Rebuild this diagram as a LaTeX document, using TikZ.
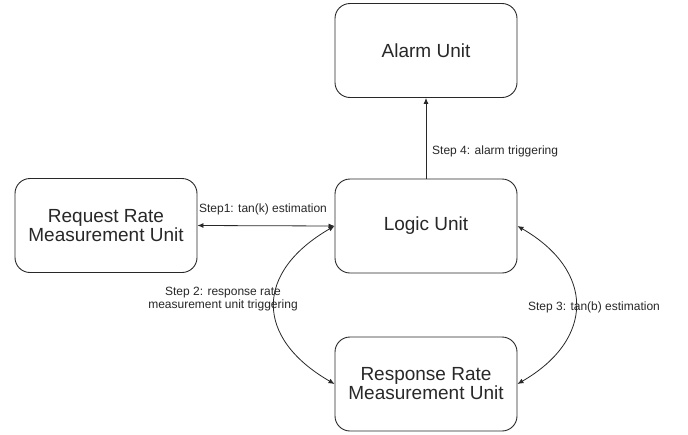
\documentclass[tikz,border=0pt]{standalone}
\usepackage{fontspec}
\setmainfont{Liberation Sans}
\usetikzlibrary{arrows.meta}
\definecolor{ink}{RGB}{40,40,40}
\begin{document}
\begin{tikzpicture}[x=1pt,y=-1pt,
  unitbox/.style={draw=ink,line width=0.9pt,rounded corners=15pt,minimum width=182pt,
    minimum height=94pt,align=center,text=ink,inner sep=0pt,
    font=\fontsize{19}{19}\selectfont},
  conn/.style={draw=ink,line width=0.8pt},
  tip/.style={-{Latex[length=6pt,width=5pt]}},
  tips/.style={{Latex[length=6pt,width=5pt]}-{Latex[length=6pt,width=5pt]}},
  lbl/.style={text=ink,inner sep=0pt,font=\fontsize{12}{12.7}\selectfont,align=center}]
\useasboundingbox (0,0) rectangle (688,434);
\fill[white] (0,0) rectangle (688,434);
\node[unitbox] (alarm) at (426,50.5) {Alarm Unit};
\node[unitbox] (logic) at (426,226) {Logic Unit};
\node[unitbox] (request) at (106,225.5) {Request Rate\\Measurement Unit};
\node[unitbox] (response) at (426,384) {Response Rate\\Measurement Unit};
\draw[conn,tips] (request.east) -- (logic.west);
\draw[conn,tip] (logic.north) -- (alarm.south);
\draw[conn,tips] (logic.west) to[out=210,in=150,looseness=1.5] (response.west);
\draw[conn,tips] (logic.east) to[out=-30,in=30,looseness=1.45] (response.east);
\node[lbl] (l1) at (263,209) {Step1: tan(k) estimation};
\node[lbl,anchor=west] (l4) at (432,151) {Step 4: alarm triggering};
\node[lbl] (l2) at (223,299) {Step 2: response rate\\measurement unit triggering};
\node[lbl] (l3) at (594,307.5) {Step 3: tan(b) estimation};
\end{tikzpicture}
\end{document}
